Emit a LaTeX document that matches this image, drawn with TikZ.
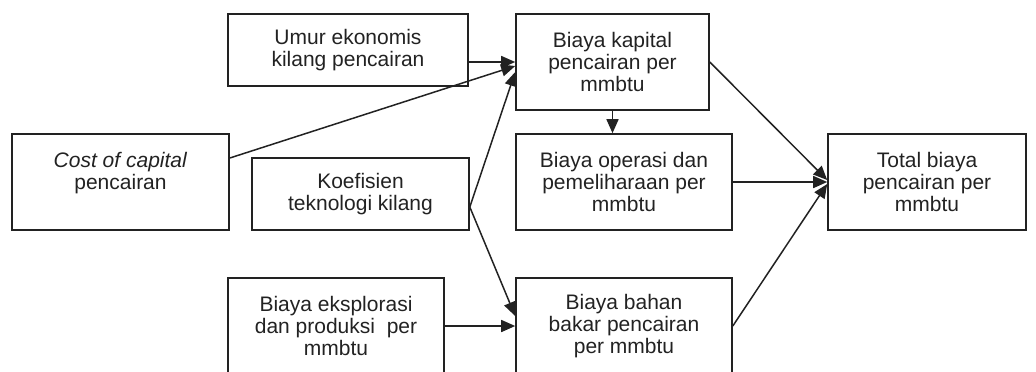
\documentclass[tikz,border=0pt]{standalone}
\usepackage{fontspec}
\setmainfont{Liberation Sans}
\usetikzlibrary{arrows.meta,positioning}
\definecolor{garis}{RGB}{34,34,34}

\begin{document}
\begin{tikzpicture}[x=0.5pt, y=-0.5pt, node distance=12pt and 12pt,
  blok/.style={rectangle, draw=garis, line width=0.8pt, align=center,
               inner sep=0pt, text=garis, font=\fontsize{10.5}{11}\selectfont},
  arr/.style={-{Triangle[length=7pt,width=6pt]}, line width=0.75pt, garis}
]
  \useasboundingbox (0,0) rectangle (1036,371);

  \node[blok, minimum width=120pt, minimum height=36pt] (umur) at (348,50)
        {Umur ekonomis\\kilang pencairan};
  \node[blok, minimum width=96.5pt, minimum height=48pt] (kap) at (612.5,62)
        {Biaya kapital\\pencairan per\\mmbtu};
  \node[blok, minimum width=108.5pt, minimum height=48pt] (cost) at (120.5,182)
        {\textit{Cost of capital}\\pencairan\\\mbox{}};
  \node[blok, minimum width=108.5pt, minimum height=36pt] (koef) at (360.5,194)
        {Koefisien\\teknologi kilang};
  \node[blok, minimum width=108pt, minimum height=48pt] (ops) at (624,182)
        {Biaya operasi dan\\pemeliharaan per\\mmbtu};
  \node[blok, minimum width=99pt, minimum height=48pt] (total) at (927,182)
        {Total biaya\\pencairan per\\mmbtu};
  \node[blok, minimum width=108pt, minimum height=48pt] (eks) at (336,326)
        {Biaya eksplorasi\\dan produksi\ \ per\\mmbtu};
  \node[blok, minimum width=108pt, minimum height=48pt] (bahan) at (624,326)
        {Biaya bahan\\bakar pencairan\\per mmbtu};

  % masukan biaya kapital
  \draw[arr] ([yshift=-6pt]umur.east) -- (kap.west);
  \draw[arr] ([yshift=12pt]cost.east) -- ([yshift=-2pt]kap.west);
  \draw[arr] ([yshift=-6.5pt]koef.east) -- ([yshift=-5pt]kap.west);
  \draw[arr] (kap.south) -- (kap.south |- ops.north);

  % masukan biaya bahan bakar
  \draw[arr] ([yshift=-6.5pt]koef.east) -- ([yshift=5pt]bahan.west);
  \draw[arr] (eks.east) -- (bahan.west);

  % ke total biaya
  \draw[arr] (kap.east) -- ([yshift=1pt]total.west);
  \draw[arr] (ops.east) -- (total.west);
  \draw[arr] (bahan.east) -- ([yshift=-1pt]total.west);
\end{tikzpicture}
\end{document}
